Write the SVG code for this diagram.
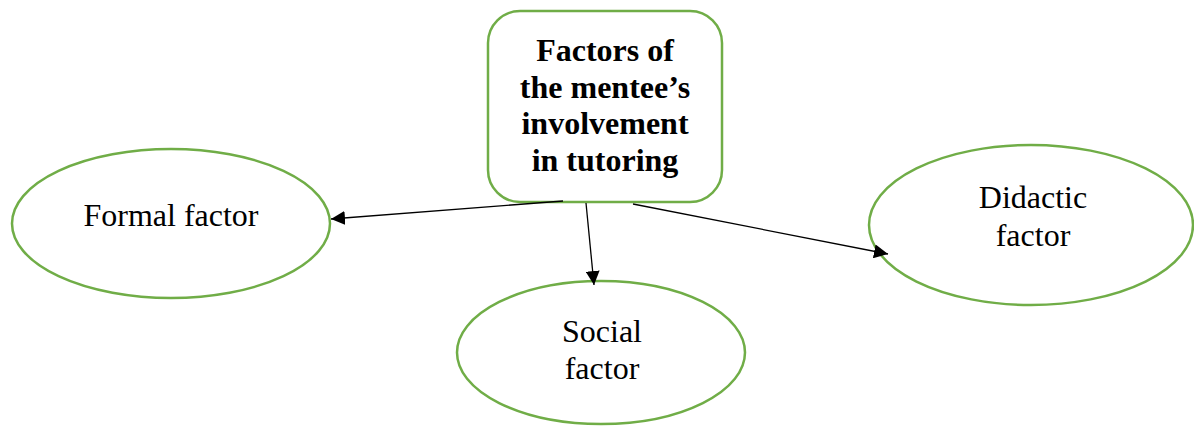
<svg xmlns="http://www.w3.org/2000/svg" width="1194" height="426" viewBox="0 0 1194 426">
<style>
.shape{fill:#fff;stroke:#70AD47;stroke-width:2.5}
.t{font-family:"Liberation Serif","Times New Roman",serif;font-size:32px;fill:#000;text-anchor:middle}
.b{font-weight:bold}
.conn{stroke:#000;stroke-width:1.3;fill:none;marker-end:url(#arr)}
</style>
<defs>
<marker id="arr" viewBox="0 0 10 10" refX="10" refY="5" markerWidth="14" markerHeight="14" markerUnits="userSpaceOnUse" orient="auto">
<path d="M0,0 L10,5 L0,10 z" fill="#000"/>
</marker>
</defs>
<g id="center">
<rect class="shape" x="488" y="11" width="234" height="191" rx="32" ry="32"/>
<text class="t b" x="605" y="61">Factors of</text>
<text class="t b" x="605" y="97.5">the mentee’s</text>
<text class="t b" x="605" y="134">involvement</text>
<text class="t b" x="605" y="170.5">in tutoring</text>
</g>
<g id="formal">
<ellipse class="shape" cx="171" cy="223.5" rx="159" ry="74.5"/>
<text class="t" x="171" y="226">Formal factor</text>
</g>
<g id="social">
<ellipse class="shape" cx="601" cy="352.5" rx="144" ry="71.5"/>
<text class="t" x="602" y="342">Social</text>
<text class="t" x="602" y="379">factor</text>
</g>
<g id="didactic">
<ellipse class="shape" cx="1031" cy="225" rx="162" ry="80"/>
<text class="t" x="1033" y="208">Didactic</text>
<text class="t" x="1033" y="246">factor</text>
</g>
<g id="connectors">
<line class="conn" x1="563" y1="201" x2="331" y2="219"/>
<line class="conn" x1="586" y1="203" x2="594" y2="285"/>
<line class="conn" x1="633" y1="204" x2="888" y2="254"/>
</g>
</svg>
